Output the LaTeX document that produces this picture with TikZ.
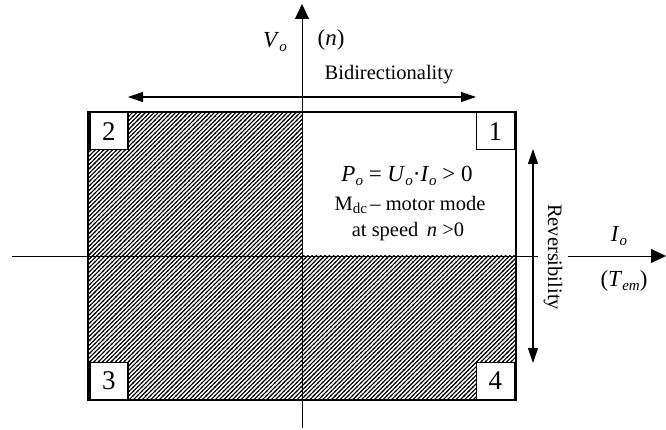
\documentclass[tikz,border=0pt]{standalone}
\usepackage{fontspec}
\setmainfont{Liberation Serif}
\usetikzlibrary{patterns,arrows.meta}
\pgfdeclarepatternformonly{densehatch}{\pgfqpoint{-1pt}{-1pt}}{\pgfqpoint{5.3pt}{5.3pt}}{\pgfqpoint{4.3pt}{4.3pt}}{%
  \pgfsetlinewidth{1.1pt}%
  \pgfpathmoveto{\pgfqpoint{-0.6pt}{-0.6pt}}%
  \pgfpathlineto{\pgfqpoint{4.9pt}{4.9pt}}%
  \pgfusepath{stroke}}
\newcommand{\lowsub}[1]{\raisebox{-0.35ex}{\fontsize{15}{15}\selectfont #1}}
\tikzset{
  lbl/.style={font=\fontsize{20.5}{24}\selectfont, inner sep=0pt},
  sym/.style={font=\fontsize{23}{26}\selectfont, inner sep=0pt},
  numbox/.style={draw, line width=1.5pt, fill=white, minimum width=38pt, minimum height=37pt, inner sep=0pt, font=\fontsize{27}{28}\selectfont},
  axis/.style={line width=0.9pt},
  bigtip/.style={-{Triangle[length=15pt,width=14pt]}},
  dbl/.style={line width=1.1pt, {Triangle[length=15pt,width=10pt]}-{Triangle[length=15pt,width=10pt]}}
}
\begin{document}
\begin{tikzpicture}[x=1pt,y=-1pt]
\useasboundingbox (0,0) rectangle (666,430);
% hatched quadrants
\fill[pattern=densehatch] (88,112) rectangle (302,256);
\fill[pattern=densehatch] (88,256) rectangle (516,400);
% frame
\node[draw, line width=2pt, minimum width=428pt, minimum height=288pt, inner sep=0pt] (frame) at (302,256) {};
% axes
\coordinate (vbot) at (302,428);
\coordinate (vtop) at (302,4);
\coordinate (hleft) at (12,256);
\coordinate (hgapa) at (538,256);
\coordinate (hgapb) at (568,256);
\coordinate (hright) at (666,256);
\draw[axis, bigtip] (vbot) -- (vtop);
\draw[axis] (hleft) -- (hgapa);
\draw[axis, bigtip] (hgapb) -- (hright);
% bidirectionality
\coordinate (bl) at (128,97);
\coordinate (br) at (476,97);
\draw[dbl] (bl) -- (br);
\node[lbl] (bidir) at (389,75) {Bidirectionality};
% reversibility
\coordinate (rt) at (533,149);
\coordinate (rb) at (533,363);
\draw[dbl] (rt) -- (rb);
\node[lbl, rotate=-90] (rev) at (553,257) {Reversibility};
% axis labels
\node[sym] (vo) at (275,42) {\textit{V}\lowsub{\textit{o}}};
\node[sym] (nlab) at (331,40) {(\textit{n})};
\node[sym] (io) at (619,236) {\textit{I}\lowsub{\textit{o}}};
\node[sym] (tem) at (624,281) {(\textit{T}\lowsub{\textit{em}})};
% quadrant 1 text
\node[sym] (power) at (407,176) {\textit{P}\lowsub{\textit{o}} = \textit{U}\lowsub{\textit{o}}·\textit{I}\lowsub{\textit{o}} > 0};
\node[lbl] (mode) at (410,205) {M\lowsub{dc}\,– motor mode};
\node[lbl] (speed) at (408,232) {at speed\, \textit{n} >0};
% quadrant numbers
\node[numbox, anchor=north east] (q1) at (515,112) {1};
\node[numbox, anchor=north west] (q2) at (89,112) {2};
\node[numbox, anchor=south west] (q3) at (89,400) {3};
\node[numbox, anchor=south east] (q4) at (515,400) {4};
\end{tikzpicture}
\end{document}
